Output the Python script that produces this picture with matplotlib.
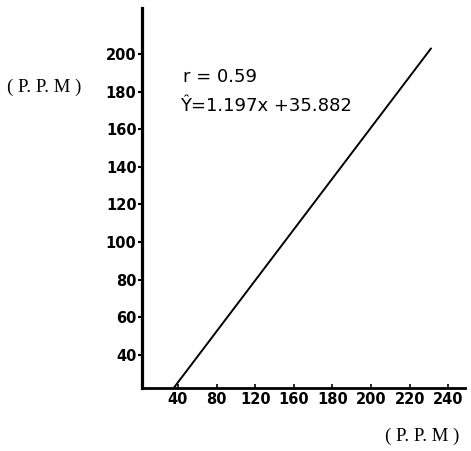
import numpy as np
import matplotlib
matplotlib.use("Agg")
import matplotlib.pyplot as plt

# ---- data ----
x_tick_values = [40, 80, 120, 160, 180, 200, 220, 240]
y_tick_values = [40, 60, 80, 100, 120, 140, 160, 180, 200]
line_x = [35, 231]      # regression line end points (P.P.M)
line_y = [22, 203]
r_text = "r = 0.59"
eq_text = "Ŷ=1.197x +35.882"
unit_label = "( P. P. M )"

# hand-drawn axis: labels are equally spaced although values are not
idx = np.arange(len(x_tick_values), dtype=float)
xv = np.array(x_tick_values, dtype=float)

def fwd(v):
    v = np.asarray(v, dtype=float)
    out = np.interp(v, xv, idx)
    lo = v < xv[0]
    hi = v > xv[-1]
    out = np.where(lo, (v - xv[0]) / (xv[1] - xv[0]), out)
    out = np.where(hi, idx[-1] + (v - xv[-1]) / (xv[-1] - xv[-2]), out)
    return out

def inv(p):
    p = np.asarray(p, dtype=float)
    out = np.interp(p, idx, xv)
    lo = p < 0
    hi = p > idx[-1]
    out = np.where(lo, xv[0] + p * (xv[1] - xv[0]), out)
    out = np.where(hi, xv[-1] + (p - idx[-1]) * (xv[-1] - xv[-2]), out)
    return out

W, H = 471, 451
fig = plt.figure(figsize=(W / 100, H / 100), dpi=100)
ax = fig.add_axes([142 / W, 1 - 388 / H, (465 - 142) / W, (388 - 8) / H])
ax.set_xscale('function', functions=(fwd, inv))
ax.set_xlim(inv(-0.93), inv(7.43))
ax.set_ylim(22.4, 224.5)

ax.plot(line_x, line_y, color='black', lw=1.4, solid_capstyle='round')

for s in ['top', 'right']:
    ax.spines[s].set_visible(False)
ax.spines['left'].set_linewidth(2.3)
ax.spines['bottom'].set_linewidth(2.0)

ax.set_xticks(x_tick_values)
ax.set_xticklabels([str(v) for v in x_tick_values])
ax.set_yticks(y_tick_values)
ax.set_yticklabels([str(v) for v in y_tick_values])
ax.minorticks_off()
ax.tick_params(axis='y', direction='out', length=3, width=1.5, pad=1,
               labelsize=10.5)
ax.tick_params(axis='x', direction='in', length=3, width=1.2, pad=3,
               labelsize=10.5)
for lab in ax.get_xticklabels() + ax.get_yticklabels():
    lab.set_fontweight('bold')

fig.text(183 / W, 1 - 77 / H, r_text, fontsize=13, ha='left', va='center')
fig.text(180 / W, 1 - 106 / H, eq_text, fontsize=13, ha='left', va='center')

fam = ['Liberation Serif', 'DejaVu Serif']
fig.text(44 / W, 1 - 87 / H, unit_label, fontsize=13.5, ha='center',
         va='center', family=fam)
fig.text(422 / W, 1 - 436 / H, unit_label, fontsize=13.5, ha='center',
         va='center', family=fam)

fig.savefig('out.png', dpi=100)
